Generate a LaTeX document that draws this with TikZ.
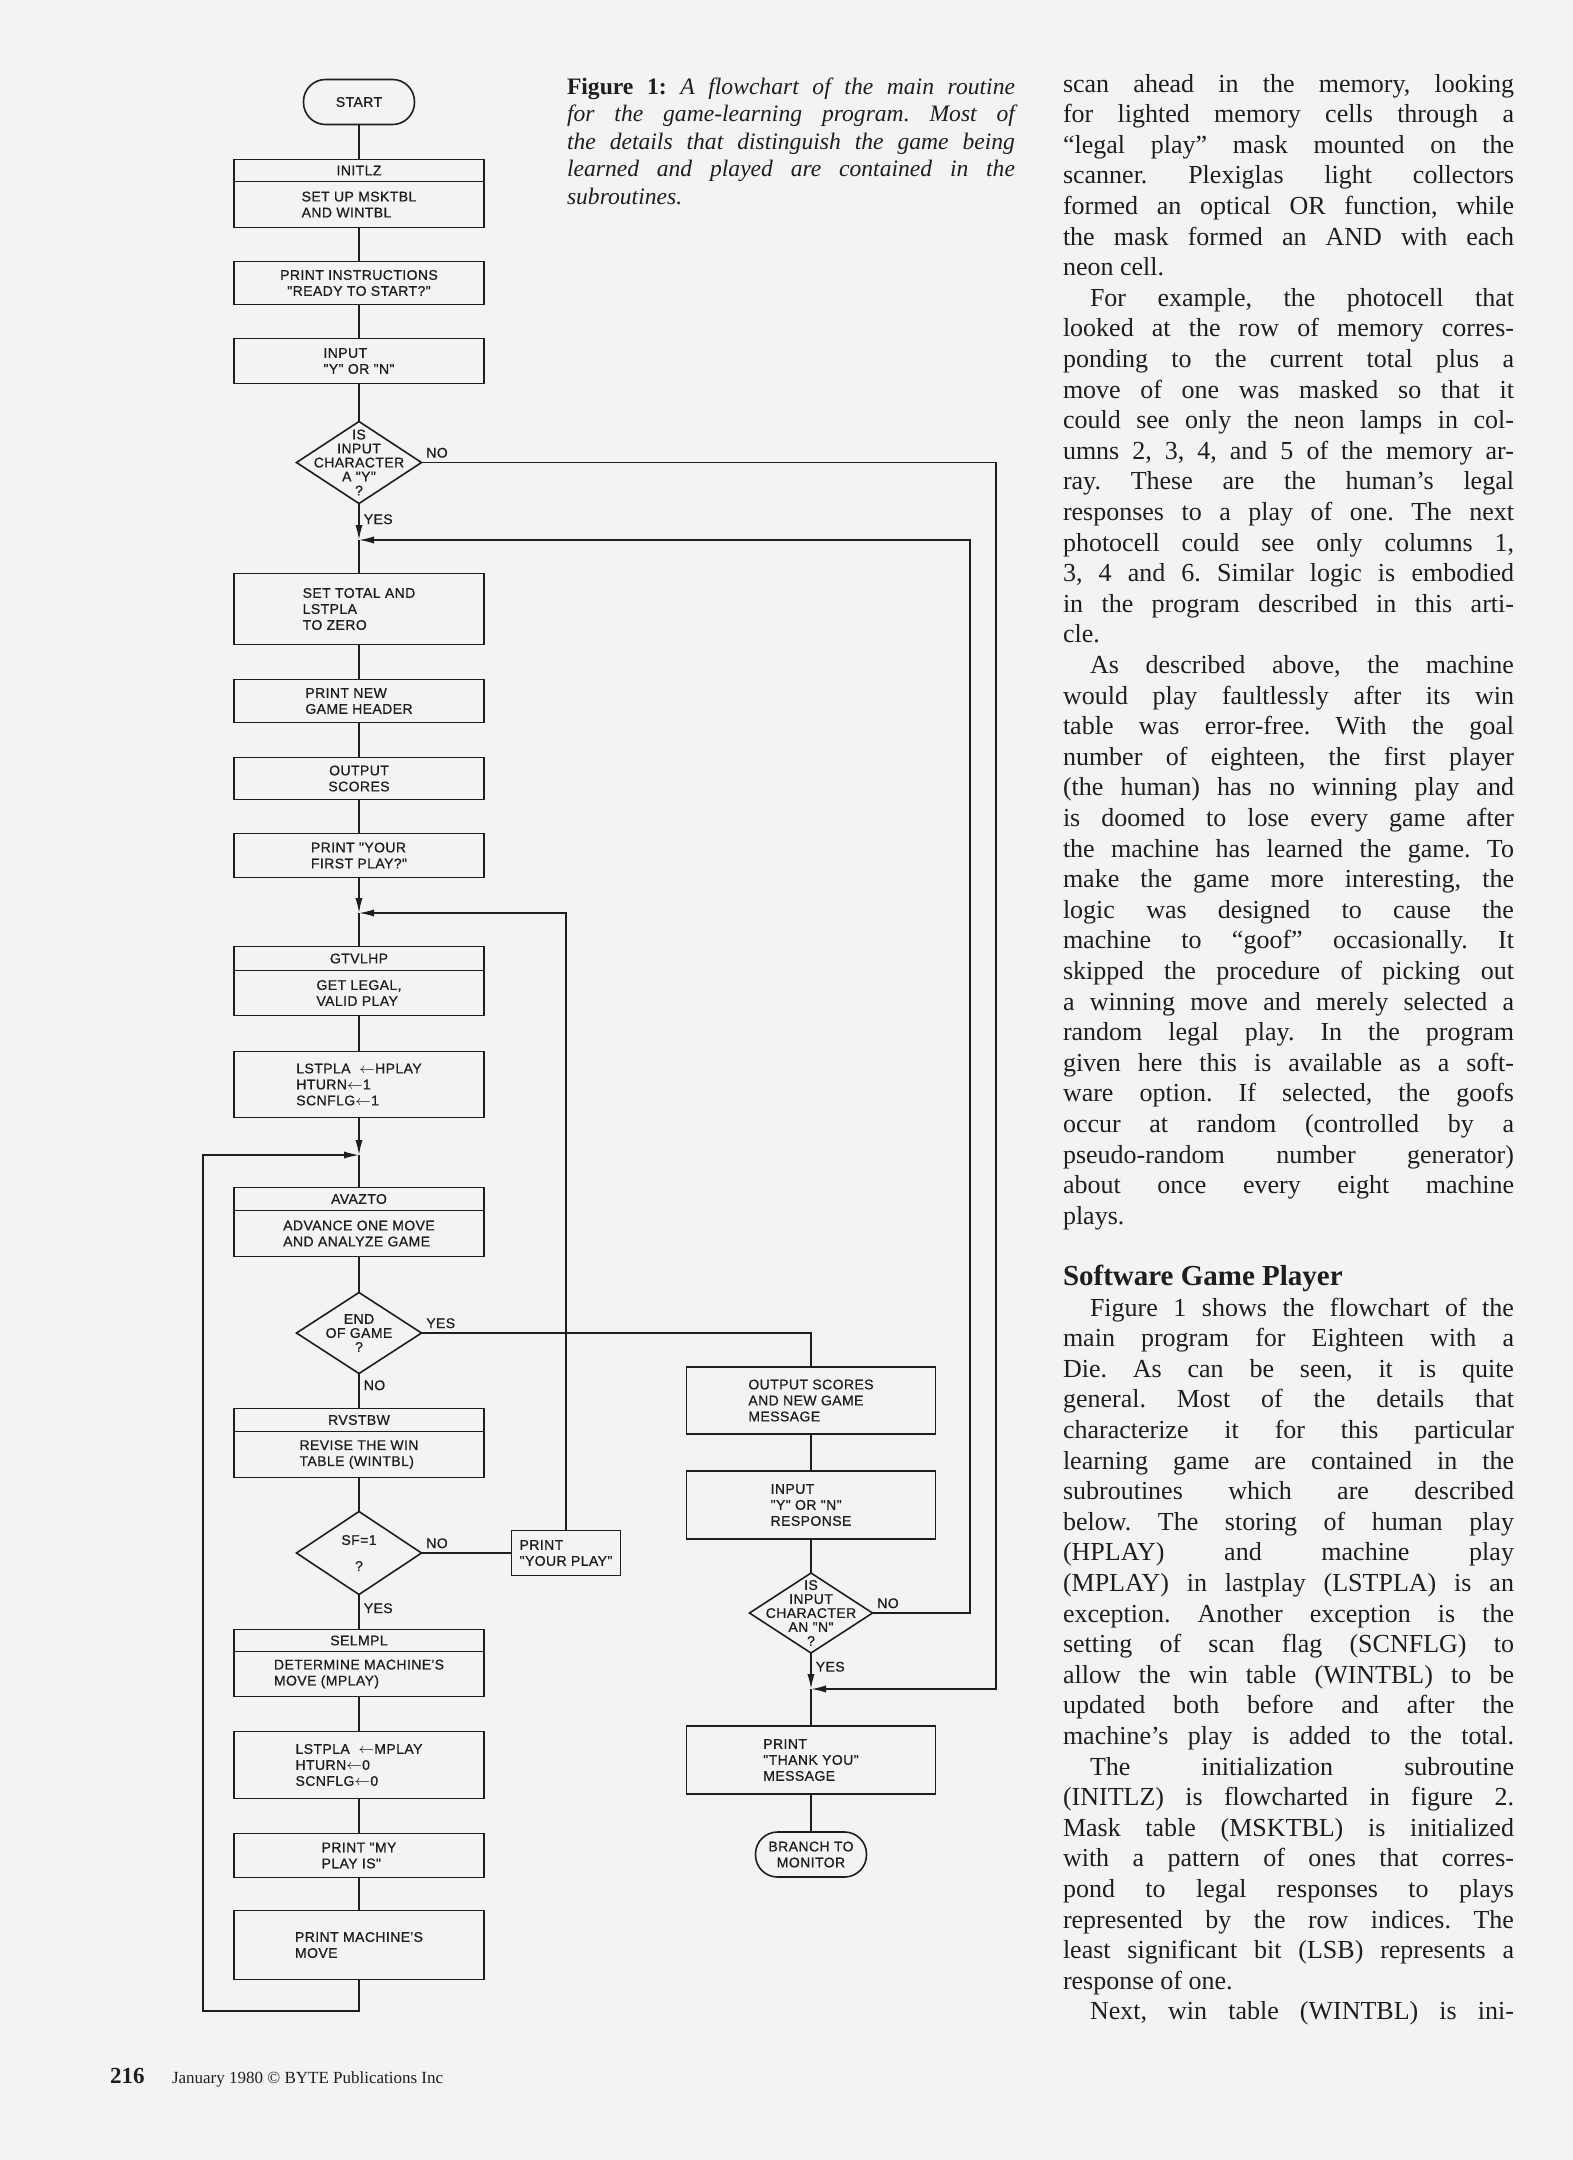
\documentclass[tikz,border=0pt]{standalone}
\usepackage{fontspec}
\setmainfont{Liberation Serif}
\newfontfamily\chartfont[LetterSpace=3,FakeBold=0.8]{Liberation Sans}
\usetikzlibrary{arrows.meta,positioning,shapes.geometric}
\definecolor{paper}{HTML}{F3F3F1}
\definecolor{ink}{HTML}{1E1E1E}
\newlength\colw
\setlength\colw{225.5pt}
\newlength\capw
\setlength\capw{224pt}
\newcommand\jline[1]{\hbox to \colw{#1}}
\newcommand\iline[1]{\hbox to \colw{\hskip 13.5pt #1}}
\newcommand\eline[1]{\hbox{#1}}
\newcommand\capline[1]{\hbox to \capw{#1}}
\frenchspacing

\begin{document}
\begin{tikzpicture}[
    x=0.5pt, y=-0.5pt,
    node distance=17.5pt,
    chart/.style={font=\chartfont\fontsize{7}{8}\selectfont, text=ink},
    procbox/.style={chart, draw=ink, line width=0.8pt, rectangle, minimum width=125pt, inner sep=1.5pt, outer sep=0pt, align=left},
    hdrbox/.style={procbox, align=center, minimum height=11.5pt},
    termbox/.style={chart, draw=ink, line width=0.8pt, rounded corners=11pt, minimum width=55.5pt, minimum height=22.5pt, inner sep=1.5pt, outer sep=0pt, align=center},
    decision/.style={draw=ink, line width=0.8pt, diamond, minimum width=62.5pt, minimum height=41pt, inner sep=0pt, outer sep=0pt},
    dtext/.style={chart, align=center, inner sep=0pt, font=\chartfont\fontsize{7}{7}\selectfont},
    lbl/.style={chart, inner sep=2pt},
    wire/.style={draw=ink, line width=0.8pt},
    flowarrow/.style={wire, -{Latex[length=7.5pt,width=3.6pt]}},
    prose/.style={inner sep=0pt, outer sep=0pt, text=ink, anchor=base west},
]
\useasboundingbox (0,0) rectangle (1573,2160);
\fill[paper] (0,0) rectangle (1573,2160);

% --- Main routine ---
\node[termbox] (start) at (359,102) {START};
\node[hdrbox, minimum height=11pt, below=17.5pt of start] (initlz) {INITLZ};
\node[procbox, minimum height=23pt, below=0pt of initlz] (setup) {SET UP MSKTBL\\AND WINTBL};
\node[procbox, align=center, minimum height=21.5pt, below=17pt of setup] (prtins) {PRINT INSTRUCTIONS\\"READY TO START?"};
\node[procbox, minimum height=22.5pt, below=17pt of prtins] (inpyn) {INPUT\\"Y" OR "N"};
\node[decision, below=19pt of inpyn, label={[dtext]center:{IS\\INPUT\\CHARACTER\\A "Y"\\?}}] (isy) {};
\coordinate (m1) at (359,540);
\node[procbox, minimum height=35.5pt, below=35pt of isy] (settot) {SET TOTAL AND\\LSTPLA\\TO ZERO};
\node[procbox, minimum height=21.5pt, below=17.5pt of settot] (prthdr) {PRINT NEW\\GAME HEADER};
\node[procbox, align=center, minimum height=21pt, below=17.5pt of prthdr] (outsc) {OUTPUT\\SCORES};
\node[procbox, minimum height=22pt, below=17pt of outsc] (prtfst) {PRINT "YOUR\\FIRST PLAY?"};
\coordinate (m2) at (359,913);
\node[hdrbox, minimum height=12pt, below=34.5pt of prtfst] (gtvlhp) {GTVLHP};
\node[procbox, minimum height=22.5pt, below=0pt of gtvlhp] (getlv) {GET LEGAL,\\VALID PLAY};
\node[procbox, minimum height=33pt, below=18pt of getlv] (lstph) {LSTPLA \ $\leftarrow$HPLAY\\HTURN$\leftarrow$1\\SCNFLG$\leftarrow$1};
\coordinate (m3) at (359,1155);
\node[hdrbox, below=35pt of lstph] (avazto) {AVAZTO};
\node[procbox, minimum height=23pt, below=0pt of avazto] (advan) {ADVANCE ONE MOVE\\AND ANALYZE GAME};
\node[decision, minimum height=40.5pt, below=18pt of advan, label={[dtext]center:{END\\OF GAME\\?}}] (endgm) {};
\node[hdrbox, below=17.5pt of endgm] (rvstbw) {RVSTBW};
\node[procbox, minimum height=23pt, below=0pt of rvstbw] (revis) {REVISE THE WIN\\TABLE (WINTBL)};
\node[decision, minimum height=41.5pt, below=17pt of revis, label={[dtext]center:{SF=1\\[6pt]?}}] (sf1) {};
\node[procbox, minimum width=54.5pt, minimum height=22.5pt, right=45pt of sf1] (prtyp) {PRINT\\"YOUR PLAY"};
\node[hdrbox, minimum height=11pt, below=17.5pt of sf1] (selmpl) {SELMPL};
\node[procbox, minimum height=22.5pt, below=0pt of selmpl] (detmv) {DETERMINE MACHINE'S\\MOVE (MPLAY)};
\node[procbox, minimum height=33.5pt, below=17.5pt of detmv] (lstpm) {LSTPLA \ $\leftarrow$MPLAY\\HTURN$\leftarrow$0\\SCNFLG$\leftarrow$0};
\node[procbox, minimum height=22pt, below=17.5pt of lstpm] (prtmy) {PRINT "MY\\PLAY IS"};
\node[procbox, minimum height=34.5pt, below=16.5pt of prtmy] (prtmv) {PRINT MACHINE'S\\MOVE};
\coordinate (lb) at (203,2011);

% --- End of game branch ---
\node[procbox, minimum width=124.5pt, minimum height=33.5pt] (outmsg) at (811,1400.5) {OUTPUT SCORES\\AND NEW GAME\\MESSAGE};
\node[procbox, minimum width=124.5pt, minimum height=34pt, below=18.5pt of outmsg] (inpresp) {INPUT\\"Y" OR "N"\\RESPONSE};
\node[decision, minimum width=61.5pt, minimum height=40pt, below=17pt of inpresp, label={[dtext]center:{IS\\INPUT\\CHARACTER\\AN "N"\\?}}] (isn) {};
\coordinate (m4) at (811,1689);
\node[procbox, minimum width=124.5pt, minimum height=34pt, below=36.5pt of isn] (prtty) {PRINT\\"THANK YOU"\\MESSAGE};
\node[termbox, below=19pt of prtty] (branch) {BRANCH TO\\MONITOR};
\coordinate (ri) at (970,540);
\coordinate (ro) at (996,1689);

% --- Connectors ---
\draw[wire] (start) -- (initlz);
\draw[wire] (setup) -- (prtins);
\draw[wire] (prtins) -- (inpyn);
\draw[wire] (inpyn) -- (isy);
\draw[flowarrow] (isy.south) node[lbl, anchor=north west, yshift=-3pt] {YES} -- (m1);
\draw[wire] (m1) -- (settot);
\draw[wire] (settot) -- (prthdr);
\draw[wire] (prthdr) -- (outsc);
\draw[wire] (outsc) -- (prtfst);
\draw[flowarrow] (prtfst) -- (m2);
\draw[wire] (m2) -- (gtvlhp);
\draw[wire] (getlv) -- (lstph);
\draw[flowarrow] (lstph) -- (m3);
\draw[wire] (m3) -- (avazto);
\draw[wire] (advan) -- (endgm);
\draw[wire] (endgm.south) node[lbl, anchor=north west, yshift=-1pt] {NO} -- (rvstbw);
\draw[wire] (revis) -- (sf1);
\draw[wire] (sf1.south) node[lbl, anchor=north west, yshift=-2pt] {YES} -- (selmpl);
\draw[wire] (detmv) -- (lstpm);
\draw[wire] (lstpm) -- (prtmy);
\draw[wire] (prtmy) -- (prtmv);
\draw[flowarrow] (prtmv.south) |- (lb) |- (m3);
\draw[wire] (sf1.east) node[lbl, anchor=south west] {NO} -- (prtyp.west);
\draw[flowarrow] (prtyp.north) |- (m2);
\draw[wire] (endgm.east) node[lbl, anchor=south west] {YES} -| (outmsg.north);
\draw[wire] (outmsg) -- (inpresp);
\draw[wire] (inpresp) -- (isn);
\draw[flowarrow] (isn.south) node[lbl, anchor=north west, yshift=-2pt] {YES} -- (m4);
\draw[wire] (m4) -- (prtty);
\draw[wire] (prtty) -- (branch);
\draw[flowarrow] (isn.east) node[lbl, anchor=south west] {NO} -| (ri) -- (m1);
\draw[flowarrow] (isy.east) node[lbl, anchor=south west] {NO} -| (ro) -- (m4);

% --- Caption ---
\node[prose, font=\itshape\fontsize{11.8}{13.75}\selectfont] (caption) at (567,94) {\vtop{
\capline{\textbf{\upshape Figure 1:} A flowchart of the main routine}
\capline{for the game-learning program. Most of}
\capline{the details that distinguish the game being}
\capline{learned and played are contained in the}
\eline{subroutines.}
}};

% --- Text column ---
\node[prose, font=\fontsize{13}{15.3}\selectfont] (column) at (1063,92) {\vtop{
\jline{scan ahead in the memory, looking}
\jline{for lighted memory cells through a}
\jline{``legal play'' mask mounted on the}
\jline{scanner. Plexiglas light collectors}
\jline{formed an optical OR function, while}
\jline{the mask formed an AND with each}
\eline{neon cell.}
\iline{For example, the photocell that}
\jline{looked at the row of memory corres-}
\jline{ponding to the current total plus a}
\jline{move of one was masked so that it}
\jline{could see only the neon lamps in col-}
\jline{umns 2, 3, 4, and 5 of the memory ar-}
\jline{ray. These are the human's legal}
\jline{responses to a play of one. The next}
\jline{photocell could see only columns 1,}
\jline{3, 4 and 6. Similar logic is embodied}
\jline{in the program described in this arti-}
\eline{cle.}
\iline{As described above, the machine}
\jline{would play faultlessly after its win}
\jline{table was error-free. With the goal}
\jline{number of eighteen, the first player}
\jline{(the human) has no winning play and}
\jline{is doomed to lose every game after}
\jline{the machine has learned the game. To}
\jline{make the game more interesting, the}
\jline{logic was designed to cause the}
\jline{machine to ``goof'' occasionally. It}
\jline{skipped the procedure of picking out}
\jline{a winning move and merely selected a}
\jline{random legal play. In the program}
\jline{given here this is available as a soft-}
\jline{ware option. If selected, the goofs}
\jline{occur at random (controlled by a}
\jline{pseudo-random number generator)}
\jline{about once every eight machine}
\eline{plays.}
\eline{}
\eline{\bfseries\fontsize{14.5}{15.3}\selectfont Software Game Player}
\iline{Figure 1 shows the flowchart of the}
\jline{main program for Eighteen with a}
\jline{Die. As can be seen, it is quite}
\jline{general. Most of the details that}
\jline{characterize it for this particular}
\jline{learning game are contained in the}
\jline{subroutines which are described}
\jline{below. The storing of human play}
\jline{(HPLAY) and machine play}
\jline{(MPLAY) in lastplay (LSTPLA) is an}
\jline{exception. Another exception is the}
\jline{setting of scan flag (SCNFLG) to}
\jline{allow the win table (WINTBL) to be}
\jline{updated both before and after the}
\jline{machine's play is added to the total.}
\iline{The initialization subroutine}
\jline{(INITLZ) is flowcharted in figure 2.}
\jline{Mask table (MSKTBL) is initialized}
\jline{with a pattern of ones that corres-}
\jline{pond to legal responses to plays}
\jline{represented by the row indices. The}
\jline{least significant bit (LSB) represents a}
\eline{response of one.}
\iline{Next, win table (WINTBL) is ini-}
}};

% --- Footer ---
\node[prose, font=\bfseries\fontsize{11.5}{13}\selectfont] (pageno) at (110,2083) {216};
\node[prose, font=\fontsize{8.5}{10}\selectfont] (credit) at (172,2083) {January 1980 \copyright{} BYTE Publications Inc};

\end{tikzpicture}
\end{document}
